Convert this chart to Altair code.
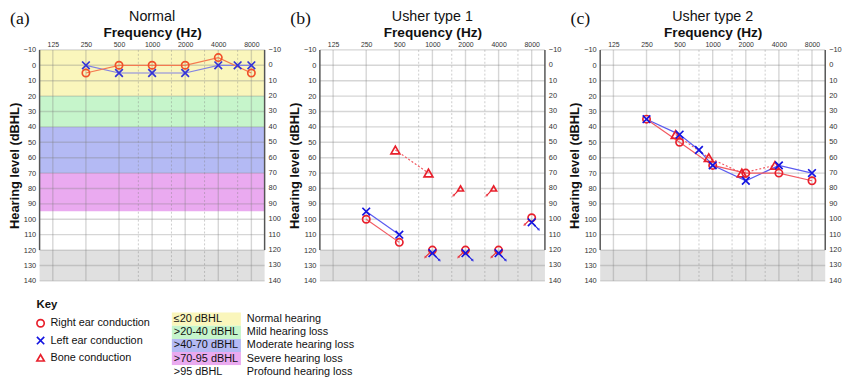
import altair as alt
import pandas as pd

# ---------------- data ----------------
FREQ_TICKS = [125, 250, 500, 1000, 2000, 4000, 8000]
HALF_OCTAVES = [750, 1500, 3000, 6000]
DB_TICKS = list(range(-10, 141, 10))

# (a) Normal
a_right_freq = [250, 500, 1000, 2000, 4000, 8000]
a_right_db = [5, 0, 0, 0, -5, 5]
a_left_freq = [250, 500, 1000, 2000, 4000, 6000, 8000]
a_left_db = [0, 5, 5, 5, 0, 0, 0]

# (b) Usher type 1
b_right_freq = [250, 500]
b_right_db = [100, 115]
b_left_freq = [250, 500]
b_left_db = [95, 110]
b_bone_freq = [500, 1000]
b_bone_db = [55, 70]
b_right_nr_freq = [1000, 2000, 4000, 8000]
b_right_nr_db = [120, 120, 120, 99]
b_left_nr_freq = [1000, 2000, 4000, 8000]
b_left_nr_db = [122, 122, 122, 102]
b_bone_nr_freq = [2000, 4000]
b_bone_nr_db = [80, 80]

# (c) Usher type 2
c_right_freq = [250, 500, 1000, 2000, 4000, 8000]
c_right_db = [35, 50, 65, 70, 70, 75]
c_left_freq = [250, 500, 750, 1000, 2000, 4000, 8000]
c_left_db = [35, 45, 55, 65, 75, 65, 70]
c_bone_freq = [500, 1000, 2000, 4000]
c_bone_db = [45, 60, 70, 65]

# hearing-loss categories
band_ranges = ["≤20 dBHL", ">20-40 dBHL", ">40-70 dBHL", ">70-95 dBHL", ">95 dBHL"]
band_names = ["Normal hearing", "Mild hearing loss", "Moderate hearing loss",
              "Severe hearing loss", "Profound hearing loss"]
band_low = [-10, 20, 40, 70, 95]
band_high = [20, 40, 70, 95, 120]
off_low, off_high = [120], [140]
edge_low, edge_high = [-10], [120]

key_labels = ["Right ear conduction", "Left ear conduction", "Bone conduction"]

# ---------------- style ----------------
W, H = 228, 234
FONT = "Liberation Sans"
BAND_COLORS = ["#faf6bc", "#c6f5cb", "#b4baf4", "#eaaaf0", "#ffffff"]
GRAY = "#e0e0e0"
XPATH = "M-1,-1L1,1M-1,1L1,-1"
PAL_A = dict(red="#f0502a", red_line="#f47a50", blue="#3434d6", blue_line="#8282e2")
PAL = dict(red="#e8202c", red_line="#f25a62", blue="#1414e0", blue_line="#5a5af0")

XSCALE = alt.Scale(type="log", base=2, domain=[125 / 2 ** 0.4, 8000 * 2 ** 0.4], nice=False)
BAND_SCALE = alt.Scale(domain=band_ranges + ["off"], range=BAND_COLORS + [GRAY])
YSCALE = alt.Scale(domain=[-10, 140], reverse=True, nice=False, zero=False)

LEFT_AXIS = alt.Axis(orient="left", values=DB_TICKS, title="Hearing level (dBHL)",
                     grid=False, domain=False, ticks=False, labelFontSize=7.5,
                     labelPadding=4, labelColor="#333", titleFontSize=13,
                     titleFontWeight="bold", titlePadding=2, titleColor="#111")
TOP_AXIS = alt.Axis(orient="top", values=FREQ_TICKS, format="d", title="Frequency (Hz)",
                    grid=False, domain=False, ticks=False, labelFontSize=7,
                    labelPadding=2, labelColor="#333", labelOverlap=False,
                    labelFlush=False, titleFontSize=13.8, titleFontWeight="bold",
                    titlePadding=2, titleColor="#111")


def frame(**cols):
    return pd.DataFrame(cols)


def xenc():
    return alt.X("f:Q", scale=XSCALE, axis=TOP_AXIS)


def yenc(field="db"):
    return alt.Y(f"{field}:Q", scale=YSCALE, axis=LEFT_AXIS)


def panel(letter, title, pal, right, left, bone=None, right_nr=None, left_nr=None,
          bone_nr=None, colored=False):
    layers = []
    if colored:
        bands = frame(lo=band_low + off_low, hi=band_high + off_high, cat=band_ranges + ["off"])
    else:
        bands = frame(lo=off_low, hi=off_high, cat=["off"])
    layers.append(alt.Chart(bands).mark_rect().encode(
        x=alt.value(0), x2=alt.value(W),
        y=yenc("lo"), y2="hi:Q",
        color=alt.Color("cat:N", scale=BAND_SCALE, legend=None)))

    # grid
    layers.append(alt.Chart(frame(db=DB_TICKS)).mark_rule(
        color="#808080", opacity=0.32, strokeWidth=1.4).encode(
        x=alt.value(0), x2=alt.value(W), y=yenc("db")))
    layers.append(alt.Chart(frame(f=FREQ_TICKS)).mark_rule(
        color="#808080", opacity=0.32, strokeWidth=1.4).encode(
        x=xenc(), y=alt.value(0), y2=alt.value(H)))
    layers.append(alt.Chart(frame(f=HALF_OCTAVES)).mark_rule(
        color="#808080", opacity=0.4, strokeWidth=1, strokeDash=[2, 2]).encode(
        x=xenc(), y=alt.value(0), y2=alt.value(H)))
    # right-hand dB labels
    layers.append(alt.Chart(frame(db=DB_TICKS)).mark_text(
        fontSize=7.5, align="left", baseline="middle", color="#333", dx=4).encode(
        x=alt.value(W), y=yenc("db"), text=alt.Text("db:Q", format="d")))
    # dark side edges
    edges = frame(lo=edge_low, hi=edge_high)
    layers.append(alt.Chart(edges).mark_rule(color="#555", strokeWidth=1.5).encode(
        x=alt.value(0), y=yenc("lo"), y2="hi:Q"))
    layers.append(alt.Chart(edges).mark_rule(color="#555", strokeWidth=1.5).encode(
        x=alt.value(W), y=yenc("lo"), y2="hi:Q"))

    def line(data, color, dash=None, xoff=0):
        kw = dict(color=color, strokeWidth=1.2, xOffset=xoff)
        if dash:
            kw["strokeDash"] = dash
        return alt.Chart(data).mark_line(**kw).encode(x=xenc(), y=yenc())

    def pts(data, shape, color, size, xoff=0):
        return alt.Chart(data).mark_point(shape=shape, filled=False, stroke=color,
                                          strokeWidth=1.7, size=size, opacity=1,
                                          xOffset=xoff).encode(x=xenc(), y=yenc())

    def arrow(data, color, dx, xoff=0):
        r = alt.Chart(data).mark_rule(color=color, strokeWidth=1.1,
                                      xOffset=xoff + dx * 3, x2Offset=xoff + dx * 7,
                                      yOffset=3, y2Offset=7).encode(
            x=xenc(), x2="f:Q", y=yenc(), y2="db:Q")
        head = alt.Chart(data).mark_point(shape="triangle-down", filled=True, fill=color,
                                          strokeWidth=0, size=10,
                                          angle=45 if dx < 0 else 315,
                                          xOffset=xoff + dx * 7.5, yOffset=7.5).encode(
            x=xenc(), y=yenc())
        return [r, head]

    r_df = frame(f=right[0], db=right[1])
    l_df = frame(f=left[0], db=left[1])
    if bone is not None:
        b_df = frame(f=bone[0], db=bone[1])
        layers.append(line(b_df, pal["red_line"], dash=[2, 2], xoff=-4))
    layers.append(line(l_df, pal["blue_line"]))
    layers.append(line(r_df, pal["red_line"]))
    if bone is not None:
        layers.append(pts(b_df, "triangle-up", pal["red"], 80, xoff=-4))
    layers.append(pts(r_df, "circle", pal["red"], 55))
    layers.append(pts(l_df, XPATH, pal["blue"], 60))
    if right_nr is not None:
        rn = frame(f=right_nr[0], db=right_nr[1])
        layers.append(pts(rn, "circle", pal["red"], 55))
        layers += arrow(rn, pal["red"], -1)
    if left_nr is not None:
        ln = frame(f=left_nr[0], db=left_nr[1])
        layers.append(pts(ln, XPATH, pal["blue"], 60))
        layers += arrow(ln, pal["blue"], 1)
    if bone_nr is not None:
        bn = frame(f=bone_nr[0], db=bone_nr[1])
        layers.append(pts(bn, "triangle-up", pal["red"], 35, xoff=-5))
        layers += arrow(bn, pal["red"], -1, xoff=-5)

    # panel letter and panel title
    layers.append(alt.Chart(frame(t=[letter])).mark_text(
        font="Liberation Serif", fontSize=18, align="left", baseline="middle",
        color="#111").encode(text="t:N", x=alt.value(-30), y=alt.value(-31)))
    layers.append(alt.Chart(frame(t=[title])).mark_text(
        font=FONT, fontSize=14.5, align="center", baseline="middle",
        color="#111").encode(text="t:N", x=alt.value(W / 2), y=alt.value(-33)))

    return alt.layer(*layers).properties(width=W, height=H)


pa = panel("(a)", "Normal", PAL_A, (a_right_freq, a_right_db), (a_left_freq, a_left_db),
           colored=True)
pb = panel("(b)", "Usher type 1", PAL, (b_right_freq, b_right_db), (b_left_freq, b_left_db),
           bone=(b_bone_freq, b_bone_db), right_nr=(b_right_nr_freq, b_right_nr_db),
           left_nr=(b_left_nr_freq, b_left_nr_db), bone_nr=(b_bone_nr_freq, b_bone_nr_db))
pc = panel("(c)", "Usher type 2", PAL, (c_right_freq, c_right_db), (c_left_freq, c_left_db),
           bone=(c_bone_freq, c_bone_db))

# ---------------- key ----------------
kdf = frame(label=key_labels)
ky = alt.Y("label:N", scale=alt.Scale(type="point", domain=key_labels, range=[24, 59],
                                      padding=0), axis=None)
key_title = alt.Chart(frame(t=["Key"])).mark_text(
    fontWeight="bold", fontSize=11.5, align="left", baseline="middle", color="#111").encode(
    text="t:N", x=alt.value(-3), y=alt.value(6))
key_pts = alt.Chart(kdf).mark_point(filled=False, strokeWidth=1.7, size=55, opacity=1).encode(
    x=alt.value(1), y=ky,
    shape=alt.Shape("label:N", scale=alt.Scale(domain=key_labels,
                                               range=["circle", XPATH, "triangle-up"]),
                    legend=None),
    stroke=alt.Stroke("label:N", scale=alt.Scale(domain=key_labels,
                                                 range=[PAL["red"], PAL["blue"], PAL["red"]]),
                      legend=None))
key_txt = alt.Chart(kdf).mark_text(fontSize=11, align="left", baseline="middle",
                                   color="#111").encode(x=alt.value(11), y=ky, text="label:N")
key_chart = alt.layer(key_title, key_pts, key_txt).properties(width=126, height=80)

bdf = frame(cat=band_ranges, name=band_names)
by = alt.Y("cat:N", scale=alt.Scale(type="band", domain=band_ranges, range=[13, 80],
                                    paddingInner=0, paddingOuter=0), axis=None)
band_box = alt.Chart(bdf).mark_rect().encode(
    x=alt.value(0), x2=alt.value(70), y=by,
    color=alt.Color("cat:N", scale=BAND_SCALE, legend=None))
band_rng = alt.Chart(bdf).mark_text(fontSize=11, align="left", baseline="middle",
                                    color="#111").encode(x=alt.value(2), y=by, text="cat:N")
band_nm = alt.Chart(bdf).mark_text(fontSize=11, align="left", baseline="middle",
                                   color="#111").encode(x=alt.value(76), y=by, text="name:N")
band_chart = alt.layer(band_box, band_rng, band_nm).properties(width=200, height=80)

legend = alt.hconcat(key_chart, band_chart, spacing=8)

chart = alt.vconcat(alt.hconcat(pa, pb, pc, spacing=7), legend, spacing=15).properties(
    padding={"top": -1, "left": 0, "right": 0, "bottom": 0},
    background="white").configure(font=FONT).configure_view(stroke=None)

chart.save("out.html", embed_options={"renderer": "svg", "actions": False})
